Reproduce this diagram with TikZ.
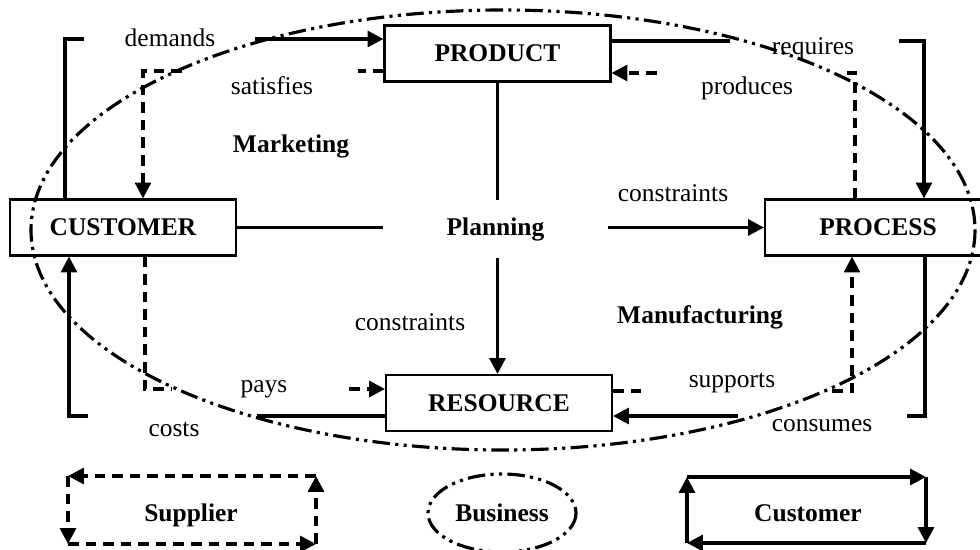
\documentclass[tikz,border=0pt]{standalone}
\usepackage{fontspec}
\setmainfont{Liberation Serif}
\usepackage{tikz}
\usetikzlibrary{arrows.meta}
\usetikzlibrary{calc}
\newcommand{\diafont}{\fontsize{14.5}{17}\selectfont}
\tikzset{
    box/.style={draw, line width=1.2pt, minimum width=4.52cm, minimum height=1.12cm, font=\diafont\bfseries},
    bold/.style={font=\diafont\bfseries},
    conn/.style={line width=1.9pt, >={Triangle[length=9pt,width=9pt]}},
    dconn/.style={conn, dash pattern=on 6pt off 4pt},
    bigell/.style={line width=1.8pt, dash pattern=on 10pt off 3pt on 1.8pt off 3pt on 1.8pt off 3pt}
}

\begin{document}
\begin{tikzpicture}[x=0.02cm,y=-0.02cm,font=\diafont]
\useasboundingbox (0,0) rectangle (980,550);
% the four entities
\node[box] (prod) at (497.5,53.5) {PRODUCT};
\node[box] (cust) at (123,227.5) {CUSTOMER};
\node[box] (proc) at (878,227.5) {PROCESS};
\node[box] (res) at (499,403) {RESOURCE};
\node[bold, minimum width=4.5cm, minimum height=1.16cm] (plan) at (495.5,229) {Planning};
% labels
\foreach \x/\y/\p/\t in {170/38/ldem/demands, 272/86/lsat/satisfies, 673/193/lcon1/constraints,
    813/49/lreq/requires, 747/88/lprd/produces, 410/322/lcon2/constraints, 264/389/lpay/pays,
    174/429/lcst/costs, 732/383/lsup/supports, 822/426/lcns/consumes}{
    \node (\p) at (\x,\y) {\t};
}
\foreach \x/\y/\p/\t in {291/146/lmkt/Marketing, 700/317/lmfg/Manufacturing}{
    \node[bold] (\p) at (\x,\y) {\t};
}
% business boundary
\draw[bigell] (503,230) ellipse [x radius=472, y radius=220];
% planning
\draw[conn] (prod.south) -- (plan.north -| prod.south);
\draw[conn,->] (plan.south -| prod.south) -- (res.north -| prod.south);
\draw[conn] (cust.east) -- (plan.west |- cust.east);
\draw[conn,->] (plan.east |- proc.west) -- (proc.west);
% demands
\coordinate (demc) at (65,39);
\coordinate (dem1) at (84,39);
\coordinate (dem2) at (255,39);
\draw[conn] (cust.north -| demc) -- (demc) -- (dem1);
\draw[conn,->] (dem2) -- (prod.west |- dem2);
% satisfies
\coordinate (sat1) at (358,71);
\coordinate (sat2) at (182,71);
\coordinate (satc) at (143,71);
\draw[dconn] (prod.west |- sat1) -- (sat1);
\draw[dconn,->] (sat2) -- (satc) -- (cust.north -| satc);
% requires
\coordinate (req1) at (730,41);
\coordinate (req2) at (899,41);
\coordinate (reqc) at (924,41);
\draw[conn] (prod.east |- req1) -- (req1);
\draw[conn,->] (req2) -- (reqc) -- (proc.north -| reqc);
% produces
\coordinate (prdc) at (855,73);
\coordinate (prd1) at (840,73);
\coordinate (prd2) at (657,73);
\draw[dconn] (proc.north -| prdc) -- (prdc) -- (prd1);
\draw[dconn,->] (prd2) -- (prod.east |- prd2);
% costs
\coordinate (cst1) at (257,416);
\coordinate (cst2) at (88,416);
\coordinate (cstc) at (69,416);
\draw[conn] (res.west |- cst1) -- (cst1);
\draw[conn,->] (cst2) -- (cstc) -- (cust.south -| cstc);
% pays
\coordinate (payc) at (145,389);
\coordinate (pay1) at (172,389);
\coordinate (pay2) at (349,389);
\draw[dconn] (cust.south -| payc) -- (payc) -- (pay1);
\draw[dconn,->] (pay2) -- (res.west |- pay2);
% supports
\coordinate (sup1) at (648,391);
\coordinate (sup2) at (832,391);
\coordinate (supc) at (852,391);
\draw[dconn] (res.east |- sup1) -- (sup1);
\draw[dconn,->] (sup2) -- (supc) -- (proc.south -| supc);
% consumes
\coordinate (cnsc) at (925,416);
\coordinate (cns1) at (907,416);
\coordinate (cns2) at (738,416);
\draw[conn] (proc.south -| cnsc) -- (cnsc) -- (cns1);
\draw[conn,->] (cns2) -- (res.east |- cns2);
% legend
\node[bold] (lspl) at (191,515) {Supplier};
\coordinate (spltl) at (68,476);
\coordinate (spltr) at (316,476);
\coordinate (splbr) at (316,544);
\coordinate (splbl) at (68,544);
\foreach \a/\b in {spltr/spltl, spltl/splbl, splbl/splbr, splbr/spltr}
    \draw[dconn,->] (\a) -- (\b);
\node[bold] (lbiz) at (502,513) {Business};
\draw[bigell] (lbiz) ellipse [x radius=74, y radius=39];
\node[bold] (lcus) at (808,513) {Customer};
\coordinate (custl) at (687,477);
\coordinate (custr) at (926,477);
\coordinate (cusbr) at (926,543);
\coordinate (cusbl) at (687,543);
\foreach \a/\b in {custl/custr, custr/cusbr, cusbr/cusbl, cusbl/custl}
    \draw[conn,->] (\a) -- (\b);
\end{tikzpicture}
\end{document}
